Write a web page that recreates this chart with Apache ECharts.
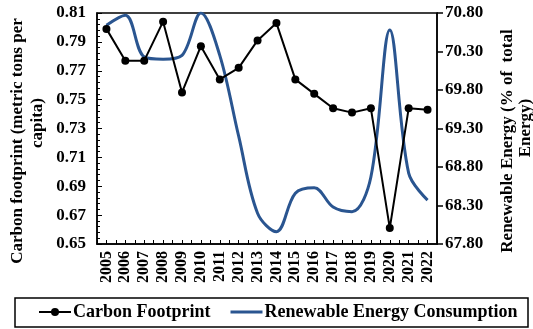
<!DOCTYPE html>
<html>
<head>
<meta charset="utf-8">
<script src="https://cdn.jsdelivr.net/npm/echarts@6/dist/echarts.min.js"></script>
<style>html,body{margin:0;padding:0;background:#fff;}#c{width:533px;height:329px;}</style>
</head>
<body>
<div id="c"></div>
<script>
var years = ['2005','2006','2007','2008','2009','2010','2011','2012','2013','2014','2015','2016','2017','2018','2019','2020','2021','2022'];
var carbonFootprint = [0.799, 0.777, 0.777, 0.804, 0.755, 0.787, 0.764, 0.772, 0.791, 0.803, 0.764, 0.754, 0.744, 0.741, 0.744, 0.661, 0.744, 0.743];
var renewableEnergy = [70.64, 70.77, 70.23, 70.20, 70.25, 70.80, 70.25, 69.20, 68.20, 67.96, 68.46, 68.53, 68.28, 68.22, 68.67, 70.58, 68.72, 68.37];
var leftTitle = ['Carbon footprint (metric tons per', 'capita)'];
var rightTitle = ['Renewable Energy (% of  total', 'Energy)'];

var halfTicks = [];
years.forEach(function (y) { halfTicks.push(y + 'a', y + 'b'); });

var font = 'Liberation Serif';
var blue = '#2a5590';
var chart = echarts.init(document.getElementById('c'), null, {renderer: 'canvas'});
var option = {
  animation: false,
  textStyle: {fontFamily: font},
  grid: {left: 97, right: 96, top: 13, bottom: 85, show: true, borderColor: '#000', borderWidth: 1.5, backgroundColor: 'transparent'},
  legend: {
    bottom: 3, left: 33,
    itemWidth: 32, itemHeight: 10, itemGap: 20,
    textStyle: {fontFamily: font, fontWeight: 'bold', fontSize: 18, color: '#000', padding: [0, 0, 0, -3]},
    data: [
      {name: 'Carbon Footprint'},
      {name: 'Renewable Energy Consumption', icon: 'path://M0,0 L32,0 L32,3 L0,3 Z', itemStyle: {color: blue}}
    ]
  },
  xAxis: [{
    type: 'category', data: years, boundaryGap: true,
    axisLine: {lineStyle: {color: '#000', width: 1.5}},
    axisTick: {show: false},
    axisLabel: {rotate: 90, interval: 0, fontFamily: font, fontWeight: 'bold', fontSize: 16, color: '#000', margin: 7}
  }, {
    type: 'category', data: halfTicks, boundaryGap: true, position: 'bottom',
    axisLine: {show: false},
    axisTick: {show: true, inside: true, length: 4, interval: 0, lineStyle: {color: '#000', width: 1}},
    axisLabel: {show: false}
  }],
  yAxis: [{
    type: 'value', min: 0.65, max: 0.81, interval: 0.02, position: 'left',
    axisLine: {show: true, lineStyle: {color: '#000', width: 1.5}},
    axisTick: {show: true, inside: true, length: 5, lineStyle: {color: '#000'}},
    splitLine: {show: false},
    axisLabel: {fontFamily: font, fontWeight: 'bold', fontSize: 17, color: '#000', margin: 11,
      formatter: function (v) { return v.toFixed(2); }}
  }, {
    type: 'value', min: 67.8, max: 70.8, interval: 0.5, position: 'right',
    axisLine: {show: true, lineStyle: {color: '#000', width: 1.5}},
    axisTick: {show: true, inside: false, length: 6, lineStyle: {color: '#000', width: 1.5}},
    splitLine: {show: false},
    axisLabel: {fontFamily: font, fontWeight: 'bold', fontSize: 17, color: '#000', margin: 8,
      formatter: function (v) { return v.toFixed(2); }}
  }, {
    type: 'value', min: 0.65, max: 0.81, interval: 0.004, position: 'left',
    axisLine: {show: false},
    axisTick: {show: true, inside: true, length: 3, lineStyle: {color: '#000', width: 1}},
    splitLine: {show: false},
    axisLabel: {show: false}
  }],
  series: [{
    name: 'Renewable Energy Consumption', type: 'line', yAxisIndex: 1, data: renewableEnergy,
    smooth: 0.35, showSymbol: false, symbol: 'none',
    lineStyle: {color: blue, width: 3}, itemStyle: {color: blue}
  }, {
    name: 'Carbon Footprint', type: 'line', yAxisIndex: 0, data: carbonFootprint,
    symbol: 'circle', symbolSize: 8,
    lineStyle: {color: '#000', width: 2}, itemStyle: {color: '#000'}
  }],
  graphic: [
    {type: 'rect', shape: {x: 15, y: 298, width: 513, height: 29}, style: {fill: 'none', stroke: '#000', lineWidth: 1.5}},
    {type: 'text', x: 18, y: 141, rotation: Math.PI / 2, style: {text: leftTitle[0], font: 'bold 17px ' + font, fill: '#000', textAlign: 'center', textVerticalAlign: 'middle'}},
    {type: 'text', x: 38, y: 123, rotation: Math.PI / 2, style: {text: leftTitle[1], font: 'bold 17px ' + font, fill: '#000', textAlign: 'center', textVerticalAlign: 'middle'}},
    {type: 'text', x: 508, y: 141, rotation: Math.PI / 2, style: {text: rightTitle[0], font: 'bold 17px ' + font, fill: '#000', textAlign: 'center', textVerticalAlign: 'middle'}},
    {type: 'text', x: 526, y: 128, rotation: Math.PI / 2, style: {text: rightTitle[1], font: 'bold 17px ' + font, fill: '#000', textAlign: 'center', textVerticalAlign: 'middle'}}
  ]
};
chart.setOption(option);
</script>
</body>
</html>
